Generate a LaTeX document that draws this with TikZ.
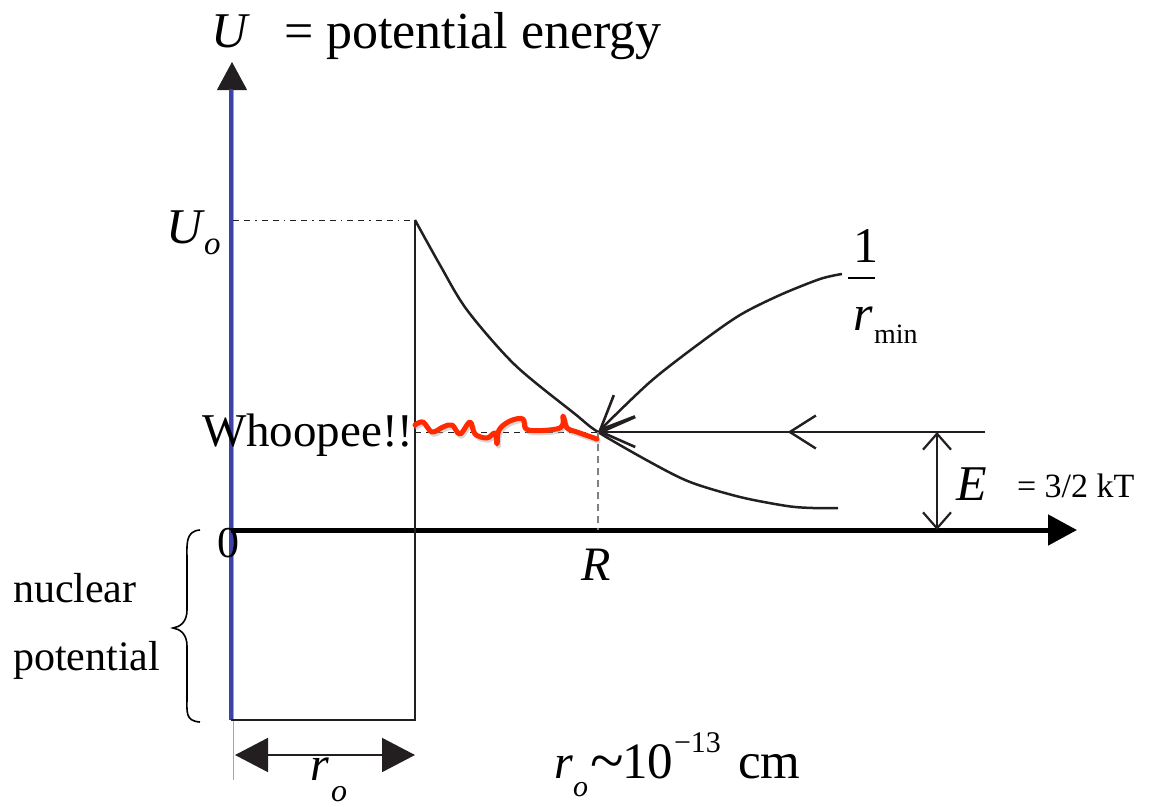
\documentclass[tikz,border=0pt]{standalone}
\usepackage{fontspec}
\setmainfont{Liberation Serif}
\usetikzlibrary{arrows.meta,decorations.markings}
\definecolor{ink}{RGB}{35,31,32}
\definecolor{axisblue}{RGB}{62,66,168}
\definecolor{squig}{RGB}{255,42,0}
\newcommand{\fsz}[1]{\fontsize{#1}{#1}\selectfont}
\begin{document}
\begin{tikzpicture}[x=1pt,y=-1pt,
  curve/.style={draw=ink,line width=2.5pt,line join=round},
  thinline/.style={draw=ink,line width=2pt},
  lbl/.style={inner sep=0pt,outer sep=0pt,anchor=base west},
  filltip/.style={-{Triangle[length=28pt,width=30pt]}},
  ebarbs/.style={{Straight Barb[length=16pt,width=28pt,line width=2.2pt]}-{Straight Barb[length=16pt,width=28pt,line width=2.2pt]}},
  openhead/.style={-{Straight Barb[length=34pt,width=30pt,line width=2.6pt]}}]
\useasboundingbox (0,0) rectangle (1151,806);

% coordinates
\coordinate (ytop) at (232,62);
\coordinate (ybot) at (232,720);
\coordinate (origin) at (231,530);
\coordinate (xend) at (1077,530);
\coordinate (uo) at (415,220);
\coordinate (wallbot) at (415,720);
\coordinate (tp) at (598,432);
\coordinate (rfoot) at (598,530);
\coordinate (wl) at (415,432);
\coordinate (hstart) at (985,432);
\coordinate (eTop) at (937,432);
\coordinate (eBot) at (937,530);
\coordinate (uoAxis) at (233,220);
\coordinate (roL) at (235,755);
\coordinate (roR) at (415,755);
\coordinate (thinBot) at (233,780);
\coordinate (curveEnd) at (838,508);
\coordinate (upEnd) at (842,274);

% thin gray guide beside axis
\draw[gray!70,line width=0.9pt] (233,90) -- (thinBot);

% y axis
\draw[ink,line width=1pt,filltip] (ybot) -- (ytop);
\draw[axisblue,line width=4pt] (231,720) -- (231,89);

% x axis
\draw[black,line width=5pt,-{Triangle[length=29pt,width=30pt]}] (origin) -- (xend);

% dash-dotted U_o line
\draw[ink,line width=1pt,dash pattern=on 6pt off 5pt on 6pt off 5pt on 1.5pt off 5pt] (uoAxis) -- (uo);

% well
\draw[thinline] (uo) -- (wallbot) -- (231,720);

% barrier curve
\draw[curve] plot[smooth,tension=0.5] coordinates {(uo) (440,265) (467,310) (515,365) (575,414) (tp) (650,462) (690,482) (740,497) (787,506) (813,508) (curveEnd)};

% incoming 1/r_min curve
\draw[curve,openhead] plot[smooth,tension=0.5] coordinates {(upEnd) (820,279) (780,295) (740,315) (700,343) (650,382) (tp)};

% horizontal incoming line with middle arrow
\draw[thinline,openhead,
  decoration={markings,mark=at position 0.51 with {\arrow{Straight Barb[length=26pt,width=33pt,line width=2.4pt]}}},
  postaction={decorate}] (hstart) -- (tp);

% dashed lines
\draw[ink,line width=1pt,dash pattern=on 6pt off 5pt] (wl) -- (tp);
\draw[gray,line width=1.2pt,dash pattern=on 7pt off 5pt] (tp) -- (rfoot);

% E arrow
\draw[thinline,ebarbs] (eBot) -- (eTop);

% red squiggle (shadow then line)
\draw[black!35,opacity=0.45,line width=4.5pt,line cap=round,line join=round,xshift=1.5pt,yshift=-2.5pt]
  plot[smooth,tension=0.6] coordinates {(415,425) (423,422) (432,432) (443,427) (452,425) (460,434) (470,422) (475,434) (487,438) (495,433) (497,444) (499,430) (510,421) (523,419) (528,430) (560,428) (563,416) (567,428) (577,432) (597,439)};
\draw[squig,line width=5pt,line cap=round,line join=round]
  plot[smooth,tension=0.6] coordinates {(415,425) (423,422) (432,432) (443,427) (452,425) (460,434) (470,422) (475,434) (487,438) (495,433) (497,444) (499,430) (510,421) (523,419) (528,430) (560,428) (563,416) (567,428) (577,432) (597,439)};

% r_o arrow
\draw[ink,line width=1.8pt,{Triangle[length=33pt,width=34pt]}-{Triangle[length=33pt,width=34pt]}] (roL) -- (roR);

% brace
\draw[black,line width=1.6pt] (200,530) .. controls (185,531) and (187,545) .. (187,560)
  -- (187,610) .. controls (187,622) and (180,627) .. (173,628)
  .. controls (180,629) and (187,634) .. (187,646)
  -- (187,697) .. controls (187,712) and (185,721) .. (200,722);

% labels
\node[lbl] (lU) at (211,47) {\fsz{50}\itshape U};
\node[lbl] (lPE) at (284,48) {\fsz{52}= potential energy};
\node[lbl] (lUo) at (166,243) {\fsz{50}\itshape U};
\node[lbl] (lUosub) at (204,254) {\fsz{33}\itshape o};
\node[lbl] (lWh) at (202,446) {\fsz{47}Whoopee!!};
\node[lbl] (lOne) at (853,262) {\fsz{50}1};
\draw[black,line width=1.3pt] (848,278) -- (875,278);
\node[lbl] (lr) at (853,330) {\fsz{50}\itshape r};
\node[lbl] (lmin) at (874,343) {\fsz{28}min};
\node[lbl] (lE) at (956,500) {\fsz{50}\itshape E};
\node[lbl] (lkT) at (1017,497) {\fsz{34}= 3/2 kT};
\node[lbl] (lZero) at (217,557) {\fsz{44}0};
\node[lbl] (lR) at (581,580) {\fsz{48}\itshape R};
\node[lbl] (lnuc) at (13,602) {\fsz{42}nuclear};
\node[lbl] (lpot) at (13,670) {\fsz{42}potential};
\node[lbl] (lro) at (310,780) {\fsz{48}\itshape r};
\node[lbl] (lrosub) at (331,801) {\fsz{32}\itshape o};
\node[lbl] (lr2) at (554,778) {\fsz{48}\itshape r};
\node[lbl] (lr2sub) at (573,796) {\fsz{30}\itshape o};
\node[lbl] (lsim) at (590,781) {\fsz{62}\textasciitilde};
\node[lbl] (lten) at (622,778) {\fsz{51}10};
\node[lbl] (lexp) at (674,752) {\fsz{30}−13};
\node[lbl] (lcm) at (738,778) {\fsz{51}cm};
\end{tikzpicture}
\end{document}
